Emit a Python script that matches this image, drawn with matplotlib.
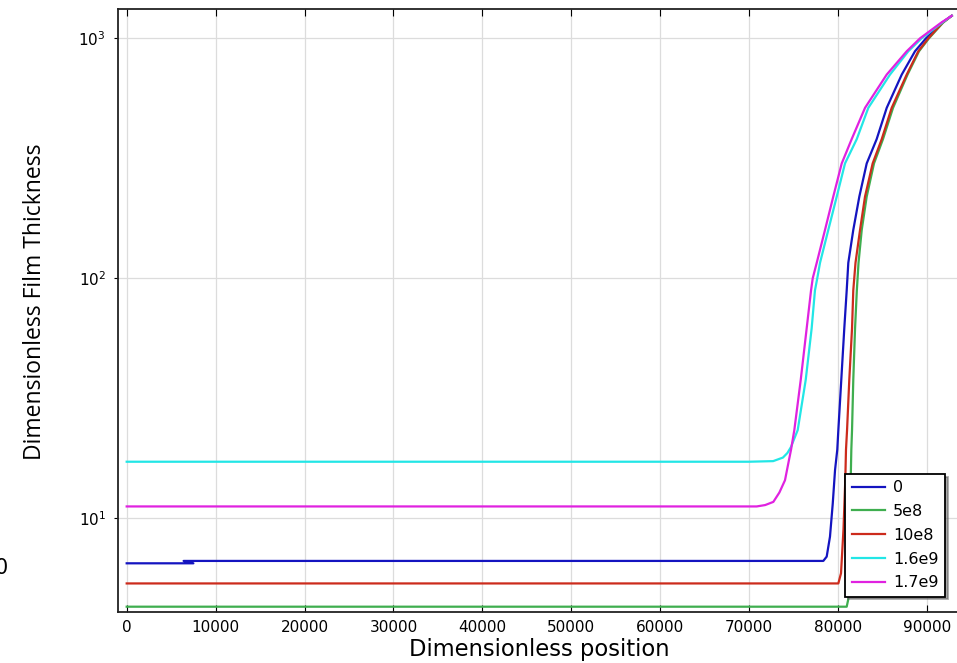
import matplotlib
matplotlib.use("Agg")
import matplotlib.pyplot as plt

# film thickness profiles, one per load case
labels = ["0", "5e8", "10e8", "1.6e9", "1.7e9"]
colors = ["#1414c0", "#3fae4f", "#cc2b1c", "#22e6e6", "#e022e0"]

x_0 = [0, 7500, 6400, 78340, 78720, 79090, 79400, 79660, 79910, 80030, 80360,
       80700, 80970, 81150, 81710, 82390, 83220, 84340, 85470, 87160, 88650,
       89890, 91690, 92780]
h_0 = [6.49, 6.49, 6.64, 6.64, 6.92, 8.38, 11.5, 15.9, 19.3, 23.3, 37.7,
       61.9, 89, 116, 159, 219, 301, 380, 513, 706, 883,
       1000, 1161, 1241]

x_5e8 = [0, 80970, 81150, 81300, 81420, 81490, 81570, 81710, 81910, 82110,
         82300, 82660, 83220, 84040, 85050, 86180, 87810, 89100, 90220, 91800,
         92780]
h_5e8 = [4.28, 4.28, 4.6, 8.0, 14.4, 19.3, 23.3, 37.7, 61.9, 89,
         116, 159, 219, 301, 380, 513, 706, 883, 1000, 1161,
         1241]

x_10e8 = [0, 80030, 80330, 80610, 80810, 80890, 81010, 81260, 81570, 81710,
          81960, 82470, 83030, 83890, 84910, 86030, 87720, 89020, 90150, 91740,
          92780]
h_10e8 = [5.35, 5.35, 5.9, 9.0, 14.4, 19.3, 23.3, 37.7, 61.9, 89,
          116, 159, 219, 301, 380, 513, 706, 883, 1000, 1161,
          1241]

x_16e9 = [0, 70000, 72700, 73800, 74300, 74700, 75460, 76360, 77030, 77400,
          77660, 77970, 78900, 79850, 80780, 82100, 83400, 85840, 87900, 89400,
          91690, 92780]
h_16e9 = [17.2, 17.2, 17.3, 17.9, 18.7, 19.8, 23.3, 37.7, 61.9, 89,
          100, 116, 159, 219, 301, 380, 513, 706, 883, 1000,
          1161, 1241]

x_17e9 = [0, 70850, 71800, 72720, 73400, 74030, 74480, 74710, 75080, 75800,
          76470, 76960, 77150, 77600, 78530, 79460, 80410, 81530, 83030, 85470,
          87720, 89220, 91580, 92780]
h_17e9 = [11.2, 11.2, 11.35, 11.7, 12.8, 14.4, 17.5, 19.3, 23.3, 37.7,
          61.9, 89, 100, 116, 159, 219, 301, 380, 513, 706,
          883, 1000, 1161, 1241]

xs = [x_0, x_5e8, x_10e8, x_16e9, x_17e9]
hs = [h_0, h_5e8, h_10e8, h_16e9, h_17e9]

fig = plt.figure(figsize=(9.57, 6.63), dpi=100)
ax = fig.add_axes([0.1236, 0.0774, 0.8785, 0.9086])

for x, h, lab, c in zip(xs, hs, labels, colors):
    ax.plot(x, h, color=c, lw=1.6, label=lab)

ax.set_yscale("log")
ax.set_xlim(-945, 93600)
ax.set_ylim(4.08, 1321)
ax.set_xticks(range(0, 90001, 10000))
ax.set_yticks([10, 100, 1000])
ax.minorticks_off()
ax.grid(True, color="#dcdcdc", lw=0.9)
ax.set_axisbelow(True)

ax.tick_params(axis="x", direction="in", length=5, top=True, labelsize=11, pad=6)
ax.tick_params(axis="y", direction="out", length=3, labelsize=11, pad=6)
for s in ax.spines.values():
    s.set_linewidth(1.3)
    s.set_color("#222222")

ax.set_xlabel("Dimensionless position", fontsize=16.3)
ax.xaxis.set_label_coords(0.501, -0.043)
ax.set_ylabel("Dimensionless Film Thickness", fontsize=16.5, family="Open Sans")
ax.yaxis.set_label_coords(-0.0845, 0.515)

leg = ax.legend(loc="lower right", bbox_to_anchor=(0.9833, 0.0249), borderaxespad=0,
                fontsize=11.5, fancybox=False, framealpha=1, edgecolor="black",
                handlelength=2.1, handletextpad=0.5, labelspacing=0.55,
                shadow={"color": "0.35", "ox": 2, "oy": -2})
leg.get_frame().set_linewidth(1.3)

fig.text(-0.0052, 1 - 568 / 663, "0", fontsize=15, ha="left", va="center")

fig.savefig("out.png", dpi=100)
